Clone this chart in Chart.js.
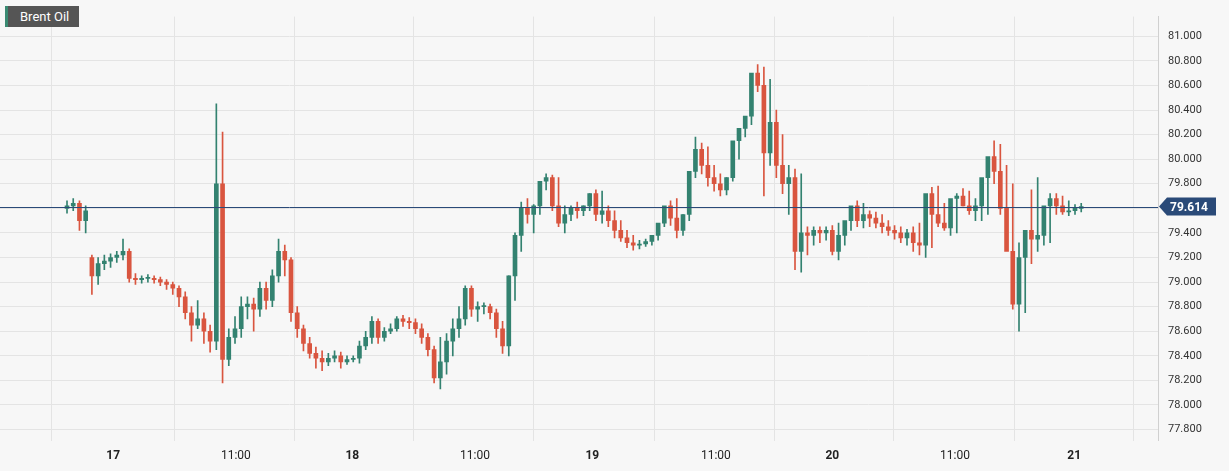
<!DOCTYPE html>
<html>
<head>
<meta charset="utf-8">
<script src="https://cdn.jsdelivr.net/npm/chart.js@4.4.1/dist/chart.umd.min.js"></script>
<style>
  body { margin: 0; background: #f7f7f7; font-family: Roboto, "Open Sans", sans-serif; }
  #wrap { position: relative; width: 1229px; height: 471px; }
  #title { position: absolute; left: 5px; top: 6px; background: #555; color: #fff; font-size: 13px;
           padding: 3px 10px 3px 12px; border-left: 3px solid #3a8a72; }
</style>
</head>
<body>
<div id="wrap">
  <canvas id="chart" width="1229" height="471"></canvas>
  <div id="title">Brent Oil</div>
</div>
<script>
const lastPrice = 79.614;
const tickPos = [7.43, 27.14, 45.86, 65.57, 84.43, 104.29, 123, 142.71, 161.86];
const tickLabels = ["17", "11:00", "18", "11:00", "19", "11:00", "20", "11:00", "21"];

const opens = [79.60, 79.62, 79.64, 79.50, 79.20, 79.05, 79.15, 79.17, 79.20, 79.22,
  79.25, 79.03, 79.02, 79.03, 79.03, 79.02, 79.00, 78.98, 78.95, 78.88,
  78.75, 78.65, 78.70, 78.60, 78.52, 79.80, 78.37, 78.55, 78.62, 78.80,
  78.82, 78.78, 78.95, 78.85, 79.05, 79.25, 79.18, 78.75, 78.62, 78.50,
  78.42, 78.38, 78.35, 78.38, 78.40, 78.35, 78.37, 78.38, 78.48, 78.55,
  78.68, 78.55, 78.60, 78.62, 78.70, 78.68, 78.67, 78.62, 78.55, 78.45,
  78.22, 78.35, 78.52, 78.62, 78.70, 78.95, 78.78, 78.80, 78.80, 78.75,
  78.62, 78.48, 79.05, 79.38, 79.60, 79.55, 79.62, 79.82, 79.85, 79.62,
  79.48, 79.55, 79.60, 79.58, 79.62, 79.72, 79.55, 79.58, 79.50, 79.42,
  79.36, 79.32, 79.30, 79.31, 79.33, 79.38, 79.48, 79.62, 79.52, 79.42,
  79.55, 79.90, 80.08, 79.95, 79.85, 79.80, 79.75, 79.85, 80.15, 80.25,
  80.35, 80.70, 80.60, 80.05, 80.30, 79.95, 79.80, 79.85, 79.25, 79.40,
  79.38, 79.42, 79.40, 79.42, 79.25, 79.38, 79.50, 79.62, 79.50, 79.55,
  79.52, 79.48, 79.45, 79.42, 79.40, 79.36, 79.40, 79.32, 79.30, 79.72,
  79.55, 79.48, 79.44, 79.68, 79.70, 79.62, 79.58, 79.62, 79.85, 80.02,
  79.90, 79.60, 79.25, 78.82, 79.20, 79.42, 79.35, 79.38, 79.62, 79.68,
  79.62, 79.57, 79.58, 79.60];
const closes = [79.62, 79.64, 79.50, 79.58, 79.05, 79.15, 79.17, 79.20, 79.22, 79.25,
  79.03, 79.02, 79.03, 79.03, 79.02, 79.00, 78.98, 78.95, 78.88, 78.75,
  78.65, 78.70, 78.60, 78.52, 79.80, 78.37, 78.55, 78.62, 78.80, 78.82,
  78.78, 78.95, 78.85, 79.05, 79.25, 79.18, 78.75, 78.62, 78.50, 78.42,
  78.38, 78.35, 78.38, 78.40, 78.35, 78.37, 78.38, 78.48, 78.55, 78.68,
  78.55, 78.60, 78.62, 78.70, 78.68, 78.67, 78.62, 78.55, 78.45, 78.22,
  78.35, 78.52, 78.62, 78.70, 78.95, 78.78, 78.80, 78.80, 78.75, 78.62,
  78.48, 79.05, 79.38, 79.60, 79.55, 79.62, 79.82, 79.85, 79.62, 79.48,
  79.55, 79.60, 79.58, 79.62, 79.72, 79.55, 79.58, 79.50, 79.42, 79.36,
  79.32, 79.30, 79.31, 79.33, 79.38, 79.48, 79.62, 79.52, 79.42, 79.55,
  79.90, 80.08, 79.95, 79.85, 79.80, 79.75, 79.85, 80.15, 80.25, 80.35,
  80.70, 80.60, 80.05, 80.30, 79.95, 79.80, 79.85, 79.25, 79.40, 79.38,
  79.42, 79.40, 79.42, 79.25, 79.38, 79.50, 79.62, 79.50, 79.55, 79.52,
  79.48, 79.45, 79.42, 79.40, 79.36, 79.40, 79.32, 79.30, 79.72, 79.55,
  79.48, 79.44, 79.68, 79.70, 79.62, 79.58, 79.62, 79.85, 80.02, 79.90,
  79.60, 79.25, 78.82, 79.20, 79.42, 79.35, 79.38, 79.62, 79.68, 79.62,
  79.57, 79.58, 79.60, 79.614];
const highs = [79.66, 79.68, 79.66, 79.62, 79.22, 79.20, 79.22, 79.23, 79.25, 79.35,
  79.27, 79.07, 79.05, 79.06, 79.05, 79.04, 79.02, 79.00, 78.97, 78.92,
  78.80, 78.85, 78.75, 78.65, 80.45, 80.22, 78.62, 78.72, 78.88, 78.88,
  78.87, 79.00, 79.00, 79.10, 79.35, 79.30, 79.20, 78.80, 78.65, 78.55,
  78.47, 78.44, 78.42, 78.44, 78.43, 78.40, 78.40, 78.52, 78.60, 78.72,
  78.70, 78.63, 78.66, 78.72, 78.73, 78.71, 78.70, 78.66, 78.58, 78.48,
  78.55, 78.58, 78.70, 78.80, 78.97, 78.97, 78.84, 78.83, 78.82, 78.78,
  78.68, 79.05, 79.40, 79.65, 79.68, 79.63, 79.66, 79.88, 79.87, 79.85,
  79.62, 79.62, 79.65, 79.62, 79.72, 79.75, 79.74, 79.62, 79.58, 79.50,
  79.42, 79.38, 79.34, 79.35, 79.36, 79.45, 79.55, 79.66, 79.68, 79.55,
  79.60, 80.18, 80.13, 80.10, 79.95, 79.88, 79.85, 79.93, 80.20, 80.28,
  80.40, 80.77, 80.75, 80.65, 80.40, 80.20, 79.95, 79.92, 79.88, 79.45,
  79.45, 79.45, 79.45, 79.46, 79.48, 79.42, 79.55, 79.66, 79.64, 79.58,
  79.57, 79.55, 79.50, 79.46, 79.45, 79.43, 79.45, 79.48, 79.36, 79.77,
  79.78, 79.64, 79.55, 79.72, 79.76, 79.74, 79.68, 79.70, 79.95, 80.15,
  80.12, 79.95, 79.80, 79.32, 79.25, 79.75, 79.85, 79.50, 79.72, 79.72,
  79.70, 79.66, 79.63, 79.64];
const lows = [79.56, 79.58, 79.42, 79.40, 78.90, 78.98, 79.10, 79.12, 79.16, 79.18,
  79.00, 78.98, 78.99, 79.00, 78.99, 78.97, 78.94, 78.90, 78.80, 78.70,
  78.52, 78.62, 78.50, 78.43, 78.45, 78.18, 78.32, 78.50, 78.55, 78.70,
  78.60, 78.72, 78.78, 78.80, 79.00, 79.05, 78.68, 78.55, 78.44, 78.38,
  78.30, 78.28, 78.32, 78.35, 78.30, 78.33, 78.35, 78.34, 78.45, 78.50,
  78.50, 78.52, 78.58, 78.60, 78.64, 78.62, 78.58, 78.50, 78.40, 78.18,
  78.13, 78.25, 78.40, 78.55, 78.65, 78.72, 78.68, 78.74, 78.70, 78.55,
  78.42, 78.40, 78.85, 79.25, 79.48, 79.40, 79.55, 79.75, 79.58, 79.45,
  79.40, 79.50, 79.52, 79.54, 79.58, 79.50, 79.48, 79.45, 79.36, 79.33,
  79.28, 79.26, 79.27, 79.29, 79.30, 79.34, 79.45, 79.46, 79.36, 79.38,
  79.50, 79.85, 79.88, 79.78, 79.74, 79.70, 79.71, 79.82, 80.00, 80.18,
  80.28, 80.55, 79.70, 79.95, 79.85, 79.72, 79.55, 79.10, 79.08, 79.22,
  79.30, 79.32, 79.34, 79.22, 79.18, 79.30, 79.42, 79.45, 79.44, 79.45,
  79.44, 79.40, 79.38, 79.35, 79.32, 79.30, 79.25, 79.22, 79.20, 79.28,
  79.45, 79.42, 79.38, 79.40, 79.62, 79.55, 79.50, 79.50, 79.55, 79.80,
  79.55, 79.45, 78.78, 78.60, 78.75, 79.15, 79.25, 79.30, 79.32, 79.55,
  79.55, 79.54, 79.55, 79.57];

const green = '#338270';
const red = '#d9553f';

const wickData = [], bodyData = [], candleColors = [];
for (let i = 0; i < closes.length; i++) {
  wickData.push({ x: i, y: [lows[i], highs[i]] });
  let o = opens[i], c = closes[i];
  if (Math.abs(o - c) < 0.008) c = o + 0.008;
  bodyData.push({ x: i, y: [o, c] });
  candleColors.push(closes[i] >= opens[i] ? green : red);
}

function labelFor(value) {
  const i = tickPos.indexOf(value);
  return i >= 0 ? tickLabels[i] : '';
}

const lastPricePlugin = {
  id: 'lastPrice',
  afterDatasetsDraw(chart) {
    const ctx = chart.ctx;
    const y = chart.scales.y.getPixelForValue(lastPrice);
    const area = chart.chartArea;
    ctx.save();
    ctx.strokeStyle = '#2a4a78';
    ctx.lineWidth = 1;
    ctx.beginPath();
    ctx.moveTo(area.left, Math.round(y) + 0.5);
    ctx.lineTo(area.right, Math.round(y) + 0.5);
    ctx.stroke();
    ctx.fillStyle = '#2a4a78';
    ctx.beginPath();
    ctx.moveTo(area.right + 1, y);
    ctx.lineTo(area.right + 9, y - 9);
    ctx.lineTo(area.right + 58, y - 9);
    ctx.lineTo(area.right + 58, y + 9);
    ctx.lineTo(area.right + 9, y + 9);
    ctx.closePath();
    ctx.fill();
    ctx.fillStyle = '#fff';
    ctx.font = 'bold 12px Roboto, sans-serif';
    ctx.textBaseline = 'middle';
    ctx.fillText(lastPrice.toFixed(3), area.right + 12, y + 1);
    ctx.restore();
  }
};

new Chart(document.getElementById('chart'), {
  type: 'bar',
  data: {
    datasets: [
      { data: wickData, backgroundColor: candleColors, barThickness: 1, grouped: false, order: 2 },
      { data: bodyData, backgroundColor: candleColors, barThickness: 4, grouped: false, order: 1 }
    ]
  },
  options: {
    responsive: false,
    animation: false,
    layout: { padding: 0 },
    plugins: { legend: { display: false }, tooltip: { enabled: false } },
    scales: {
      x: {
        type: 'linear',
        min: -0.43,
        max: 165,
        grid: { color: '#e4e4e4', drawTicks: false },
        border: { display: false },
        afterBuildTicks(scale) { scale.ticks = tickPos.map(v => ({ value: v })); },
        ticks: {
          autoSkip: false,
          maxRotation: 0,
          padding: 8,
          color: '#222',
          font: ctx => {
            const lbl = ctx.tick ? labelFor(ctx.tick.value) : '';
            return { size: 12, family: 'Roboto, sans-serif', weight: lbl.includes(':') ? 'normal' : 'bold' };
          },
          callback: v => labelFor(v)
        }
      },
      y: {
        position: 'right',
        min: 77.71,
        max: 81.16,
        grid: { color: '#e4e4e4', drawTicks: false },
        border: { color: '#d0d0d0' },
        afterBuildTicks(scale) {
          const t = [];
          for (let v = 77.8; v <= 81.001; v += 0.2) t.push({ value: Math.round(v * 10) / 10 });
          scale.ticks = t;
        },
        afterFit(scale) { scale.width = 71; },
        ticks: {
          padding: 10,
          color: '#333',
          font: { size: 11, family: 'Roboto, sans-serif' },
          callback: v => v.toFixed(3)
        }
      }
    }
  },
  plugins: [lastPricePlugin]
});
</script>
</body>
</html>
